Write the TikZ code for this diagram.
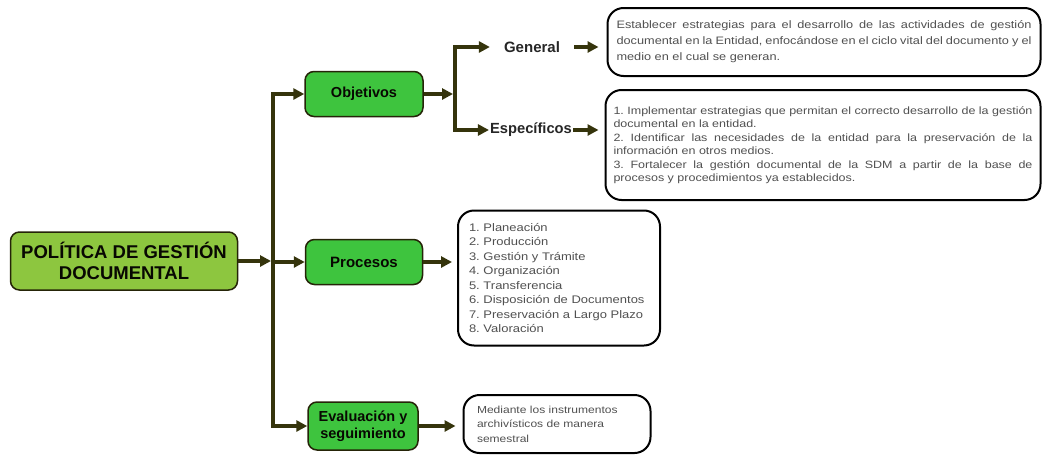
\documentclass[tikz,border=0pt]{standalone}
\usepackage{fontspec}
\setmainfont{Liberation Sans}
\newfontfamily\ancha[FakeStretch=1.18]{Liberation Sans}
\usetikzlibrary{arrows.meta}
\usepackage{xcolor}
\definecolor{olivo}{HTML}{35340C}
\definecolor{verde}{HTML}{3EC43E}
\definecolor{verdeclaro}{HTML}{8DC63F}
\definecolor{texto}{HTML}{505050}
\frenchspacing

\begin{document}
\begin{tikzpicture}[x=1pt,y=-1pt]
 \tikzstyle{titulo}=[draw=olivo!70!black, line width=1.5pt, rounded corners=9pt,
                     text=black!85!olivo, align=center, inner sep=0pt]
 \tikzstyle{caja}=[draw=black, line width=2pt, rounded corners=16pt,
                   text=texto, inner sep=0pt]
 \tikzstyle{flecha}=[draw=olivo, line width=4pt, -{Triangle[length=11pt,width=11pt]}]
 \tikzstyle{tronco}=[draw=olivo, line width=4pt, line cap=rect]

        \useasboundingbox (0,0) rectangle (1043,455);

        % cajas de titulo
        \node[titulo, fill=verdeclaro, minimum width=227pt, minimum height=58pt,
              font=\bfseries\fontsize{18.5}{21}\selectfont] (pol) at (124,261)
              {POLÍTICA DE GESTIÓN\\DOCUMENTAL};
        \node[titulo, fill=verde, minimum width=118pt, minimum height=45pt,
              font=\bfseries\fontsize{14.5}{16}\selectfont] (obj) at (364,94) {Objetivos};
        \node[titulo, fill=verde, minimum width=117pt, minimum height=45pt,
              font=\bfseries\fontsize{15}{16}\selectfont] (proc) at (364,262) {Procesos};
        \node[titulo, fill=verde, minimum width=110pt, minimum height=48pt,
              font=\bfseries\fontsize{14.5}{17}\selectfont] (eva) at (363,426)
              {Evaluación y\\seguimiento};

        % etiquetas
        \node[inner xsep=14pt, font=\bfseries\fontsize{15}{16}\selectfont,
              text=black!85] (gen) at (532,47) {General};
        \node[inner xsep=1pt, font=\bfseries\fontsize{14.7}{16}\selectfont,
              text=black!85] (esp) at (531,130) {Específicos};

        % cajas de texto
        \node[caja, minimum width=433pt, minimum height=68pt, text width=415pt,
              align=justify, font=\ancha\fontsize{10.8}{16}\selectfont] (cgen) at (824,42)
              {Establecer estrategias para el desarrollo de las actividades de gestión\linebreak
               documental en la Entidad, enfocándose en el ciclo vital del documento y el\linebreak
               medio en el cual se generan.};
        \node[caja, minimum width=435pt, minimum height=110pt, text width=419pt,
              align=justify, font=\ancha\fontsize{10.6}{13.5}\selectfont] (cesp) at (823,145)
              {1. Implementar estrategias que permitan el correcto desarrollo de la gestión\linebreak
               documental en la entidad.\\
               2. Identificar las necesidades de la entidad para la preservación de la\linebreak
               información en otros medios.\\
               3. Fortalecer la gestión documental de la SDM a partir de la base de\linebreak
               procesos y procedimientos ya establecidos.};
        \node[caja, minimum width=202pt, minimum height=135pt, text width=180pt,
              align=left, font=\ancha\fontsize{11}{14.5}\selectfont] (cproc) at (559,278)
              {1. Planeación\\2. Producción\\3. Gestión y Trámite\\4. Organización\\
               5. Transferencia\\6. Disposición de Documentos\\
               7. Preservación a Largo Plazo\\8. Valoración};
        \node[caja, minimum width=187pt, minimum height=58pt, text width=160pt,
              align=left, font=\ancha\fontsize{10.2}{14.5}\selectfont] (ceva) at (557,424)
              {Mediante los instrumentos\\archivísticos de manera\\semestral};

        % troncos
        \coordinate (t1) at (273,94);
        \coordinate (t2) at (273,426);
        \coordinate (s1) at (455,47);
        \coordinate (s2) at (455,130);
        \draw[tronco] (t1) -- (t2);
        \draw[tronco] (s1) -- (s2);

        % flechas
        \draw[flecha, shorten >=2pt] (pol.east) -- (pol.east -| t1);
        \draw[flecha] (t1) -- (obj.west);
        \draw[flecha] (proc.west -| t1) -- (proc.west);
        \draw[flecha] (t2) -- (eva.west);
        \draw[flecha, shorten >=2pt] (obj.east) -- (obj.east -| s1);
        \draw[flecha] (s1) -- (gen.west);
        \draw[flecha] (s2) -- (esp.west);
        \draw[flecha, shorten >=8pt] (gen.east) -- (gen.east -| cgen.west);
        \draw[flecha, shorten >=6pt] (esp.east) -- (esp.east -| cesp.west);
        \draw[flecha, shorten >=5pt] (proc.east) -- (proc.east -| cproc.west);
        \draw[flecha, shorten >=7pt] (eva.east) -- (eva.east -| ceva.west);

\end{tikzpicture}
\end{document}
